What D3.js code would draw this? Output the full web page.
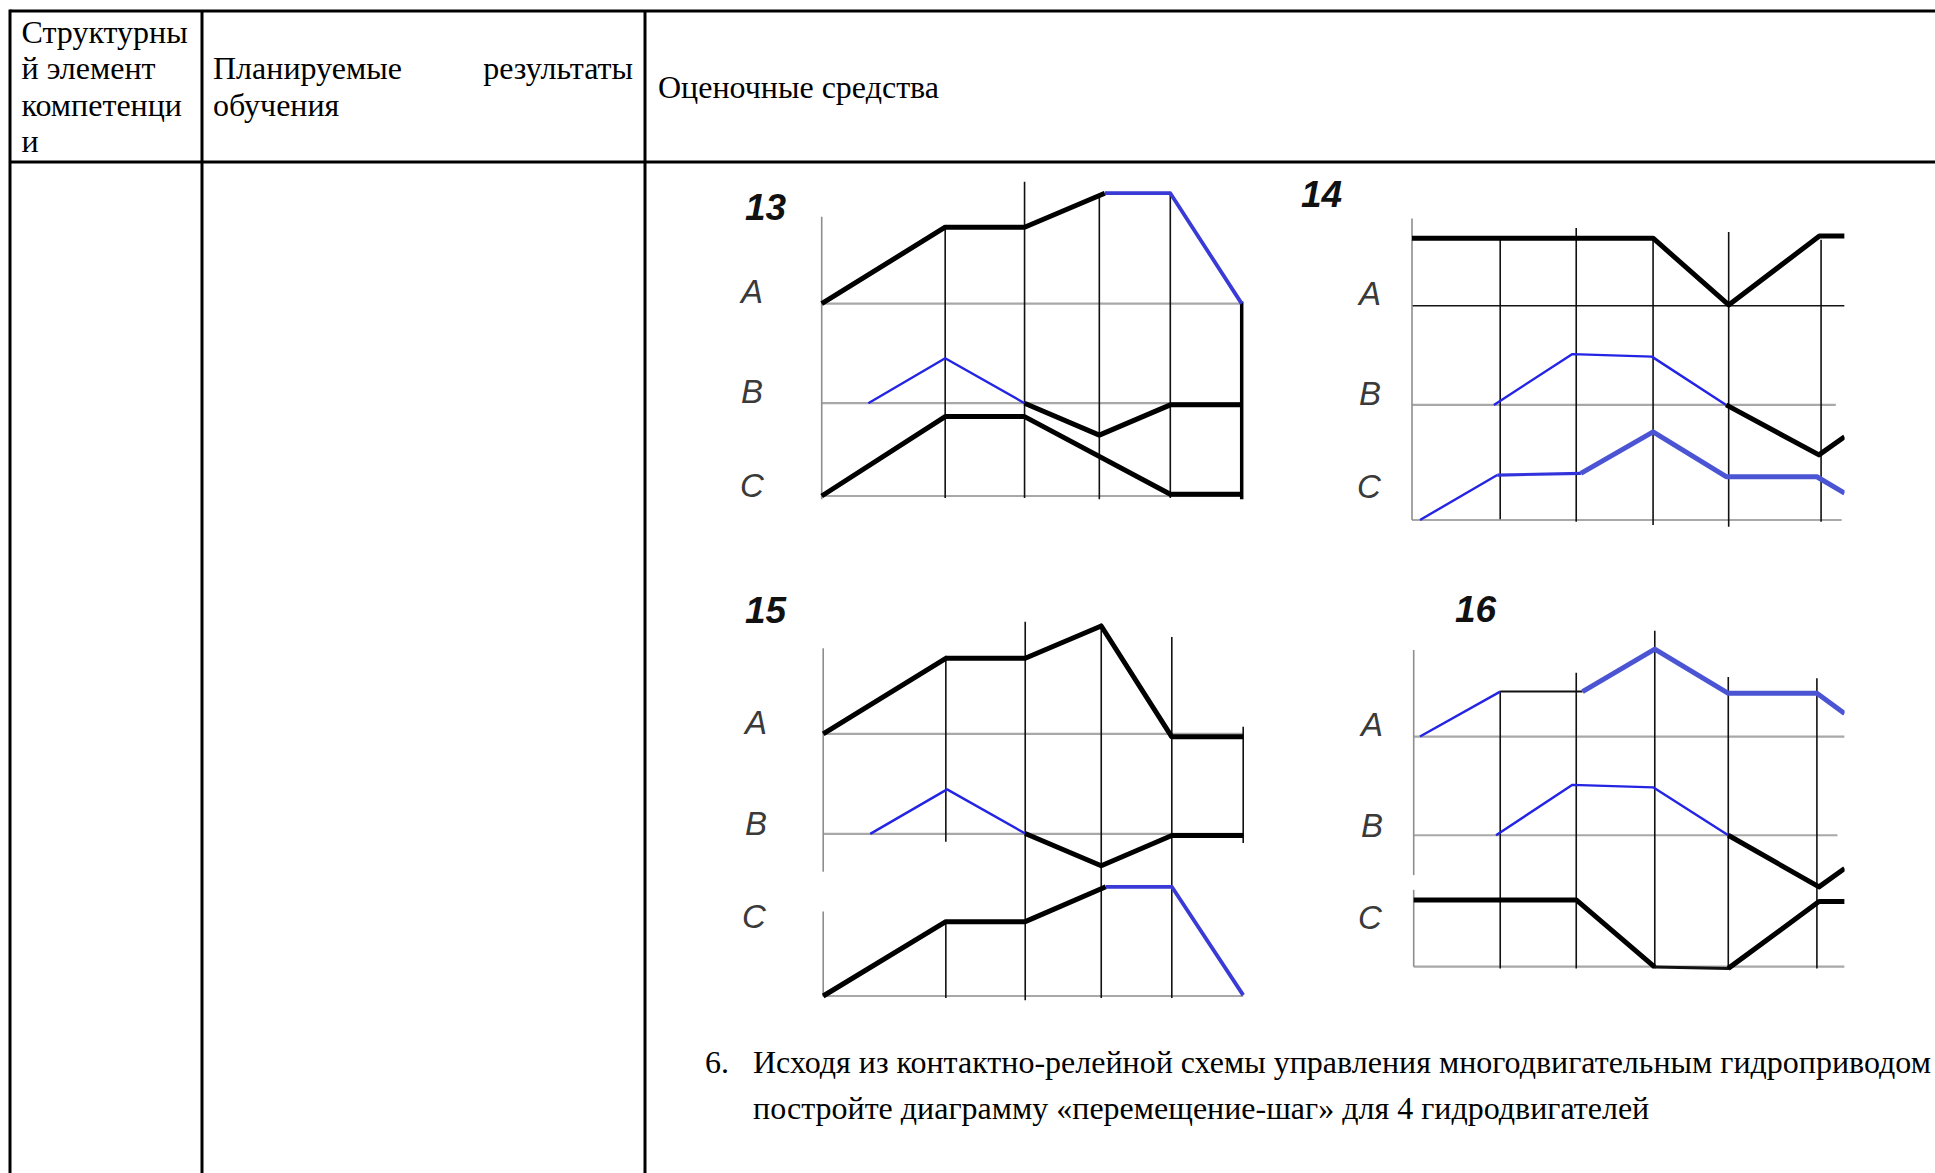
<!DOCTYPE html>
<html lang="ru">
<head>
  <meta charset="UTF-8">
  <title>Диаграммы «перемещение-шаг»</title>
  <script src="https://d3js.org/d3.v7.min.js"></script>
  <style>
    html, body { margin: 0; padding: 0; background: #fff; overflow: hidden; }
    svg { display: block; }
    .cell { font-family: "Liberation Serif", "Times New Roman", serif; font-size: 32px; fill: #000; }
    .num { font-family: "Liberation Sans", Arial, sans-serif; font-weight: bold; font-style: italic; font-size: 37px; fill: #111; }
    .lbl { font-family: "Liberation Sans Narrow", "Liberation Sans", sans-serif; font-style: italic; font-size: 33px; fill: #3a3a3a; }
  </style>
</head>
<body>
  <div id="sheet"></div>

  <script>
    const W = 1935, H = 1173;
    const UNIT = 4.2; // px per drawing unit

    // table text
    const headCol1 = ["Структурны", "й элемент", "компетенци", "и"];
    const headCol2 = ["Планируемые", "результаты", "обучения"];
    const headCol3 = "Оценочные средства";
    const taskNum = "6.";
    const taskLines = [
      "Исходя из контактно-релейной схемы управления многодвигательным гидроприводом",
      "постройте диаграмму «перемещение-шаг» для 4 гидродвигателей"
    ];

    const trackNames = ["A", "B", "C"];

    // ---- diagram 13 ----
    // base lines: [level, end, kind]
    const d13Base = [[45.8, 100, "base"], [22.1, 100, "base"], [0, 100, "base"]];
    // verticals: [step, from, to, kind]
    const d13Vert = [[0, -0.8, 66.5, "axis"], [29.4, -0.5, 64.0, "grid"], [48.3, -0.5, 74.8, "grid"],
                     [66.1, -0.8, 71.7, "grid"], [83.0, -0.5, 72.1, "grid"], [100, -0.8, 46.3, "edge"]];
    const d13Tracks = [
      { kind: "black", pts: [[0, 45.8], [29.4, 64.0], [48.3, 64.0], [67.4, 72.1]] },
      { kind: "blueBold", pts: [[67.4, 72.1], [83, 72.1], [100, 45.8]] },
      { kind: "blue", pts: [[11.1, 22.1], [29.4, 32.8], [48.3, 22.1]] },
      { kind: "black", pts: [[48.3, 22.1], [66.1, 14.5], [83, 21.7], [100, 21.7]] },
      { kind: "black", pts: [[0, 0], [29.4, 18.9], [48.3, 18.9], [83, 0.4], [100, 0.4]] }
    ];
    const d13Letters = [45.9, 22.1, -0.2];

    // ---- diagram 14 ----
    const d14Base = [[51.0, 103, "baseDark"], [27.4, 100.9, "base"], [0, 102.3, "base"]];
    const d14Vert = [[0, 0, 71.8, "axis"], [21.0, 0.2, 66.7, "grid"], [39.1, -0.4, 69.5, "grid"],
                     [57.4, -1.2, 67.5, "grid"], [75.4, -1.6, 68.6, "grid"], [97.4, -0.4, 66.7, "grid"]];
    const d14Tracks = [
      { kind: "black", pts: [[0, 67.1], [57.4, 67.1], [75.4, 51.2], [97.0, 67.6], [103, 67.6]] },
      { kind: "blue", pts: [[19.5, 27.4], [38.2, 39.5], [57.1, 38.9], [74.8, 27.4]] },
      { kind: "black", pts: [[74.8, 27.4], [96.9, 15.5], [103, 19.8]] },
      { kind: "blue", pts: [[1.9, 0], [20.3, 10.7]] },
      { kind: "blueMid", pts: [[20.3, 10.7], [40.2, 11.1]] },
      { kind: "blueWide", pts: [[40.2, 11.1], [57.4, 21.0], [74.8, 10.3], [96.4, 10.3], [103, 6.4]] }
    ];
    const d14Letters = [51.2, 27.4, 5.2];

    // ---- diagram 15 ----
    const d15Base = [[62.4, 100, "base"], [38.6, 100, "base"], [0, 100, "base"]];
    const d15Vert = [[0, 29.6, 82.8, "axis"], [0, -0.2, 20.1, "axis"], [29.2, 36.7, 81.0, "grid"],
                     [29.2, -0.5, 18.1, "grid"], [48.1, -1.0, 89.1, "grid"], [66.2, -0.5, 88.7, "grid"],
                     [83.0, -0.5, 85.5, "grid"], [100, 36.4, 64.1, "grid"]];
    const d15Tracks = [
      { kind: "black", pts: [[0, 62.4], [29.2, 80.4], [48.1, 80.4], [66.2, 88.1], [83, 61.7], [100, 61.7]] },
      { kind: "blue", pts: [[11.2, 38.6], [29.5, 49.2], [48.1, 38.7]] },
      { kind: "black", pts: [[48.1, 38.7], [66.2, 31.0], [83, 38.2], [100, 38.2]] },
      { kind: "black", pts: [[0, 0], [29.2, 17.7], [48.1, 17.7], [67.3, 26.0]] },
      { kind: "blueBold", pts: [[67.3, 26.0], [83, 26.0], [100, 0.2]] }
    ];
    const d15Letters = [62.4, 38.3, 16.1];

    // ---- diagram 16 ----
    const d16Base = [[54.8, 102.6, "base"], [31.3, 100.9, "base"], [0, 102.6, "base"]];
    const d16Vert = [[0, 21.8, 75.4, "axis"], [0, 0, 18.3, "axis"], [20.6, -0.4, 65.5, "grid"],
                     [38.7, -0.4, 70.0, "grid"], [57.4, -0.4, 80.0, "grid"], [74.9, -0.8, 69.0, "grid"],
                     [96.0, -0.4, 68.7, "grid"]];
    const d16Tracks = [
      { kind: "blue", pts: [[1.5, 54.8], [20.6, 65.5]] },
      { kind: "blackThin", pts: [[20.6, 65.5], [40.2, 65.5]] },
      { kind: "blueWide", pts: [[40.2, 65.5], [57.4, 75.6], [74.9, 65.1], [96.0, 65.1], [102.6, 60.3]] },
      { kind: "blue", pts: [[19.6, 31.3], [37.8, 43.3], [57.0, 42.7], [74.9, 31.3]] },
      { kind: "black", pts: [[74.9, 31.3], [96.5, 19.0], [102.6, 23.4]] },
      { kind: "black", pts: [[0, 15.9], [38.7, 15.9], [57.4, -0.1]] },
      { kind: "blackMid", pts: [[57.4, -0.1], [74.9, -0.4]] },
      { kind: "black", pts: [[74.9, -0.4], [96.5, 15.5], [102.6, 15.5]] }
    ];
    const d16Letters = [54.9, 31.0, 8.9];

    const diagrams = [
      { id: "13", base: d13Base, vert: d13Vert, tracks: d13Tracks, letters: d13Letters, clipAt: null },
      { id: "14", base: d14Base, vert: d14Vert, tracks: d14Tracks, letters: d14Letters, clipAt: 103.0 },
      { id: "15", base: d15Base, vert: d15Vert, tracks: d15Tracks, letters: d15Letters, clipAt: null },
      { id: "16", base: d16Base, vert: d16Vert, tracks: d16Tracks, letters: d16Letters, clipAt: 102.6 }
    ];

    // placement on the sheet
    const layout = {
      "13": { ox: 821.7, oy: 496.0, numX: 745, numY: 220, letX: [741, 741, 740] },
      "14": { ox: 1412.0, oy: 520.0, numX: 1301, numY: 207, letX: [1359, 1359, 1357] },
      "15": { ox: 823.2, oy: 996.0, numX: 745, numY: 623, letX: [745, 745, 742] },
      "16": { ox: 1413.7, oy: 966.7, numX: 1455, numY: 622, letX: [1361, 1361, 1358] }
    };

    const styles = {
      base:      { stroke: "#a8a8a8", width: 2.2 },
      baseDark:  { stroke: "#151515", width: 1.6 },
      axis:      { stroke: "#8e8e8e", width: 1.6 },
      grid:      { stroke: "#111", width: 1.6 },
      edge:      { stroke: "#000", width: 3.5 },
      black:     { stroke: "#000", width: 5 },
      blackMid:  { stroke: "#111", width: 3 },
      blackThin: { stroke: "#111", width: 2 },
      blue:      { stroke: "#2424e4", width: 2.4 },
      blueMid:   { stroke: "#3333dc", width: 3.2 },
      blueBold:  { stroke: "#3a3ad6", width: 3.8 },
      blueWide:  { stroke: "#4b55d4", width: 5 }
    };

    const svg = d3.select("#sheet").append("svg")
                  .attr("width", W)
                  .attr("height", H);

    // table rules
    const rules = [[10, 11, W, 11], [10, 162, W, 162], [10, 9.5, 10, H], [202, 11, 202, H], [645, 11, 645, H]];
    svg.append("g").selectAll("line")
       .data(rules)
       .join("line")
       .attr("x1", d => d[0]).attr("y1", d => d[1])
       .attr("x2", d => d[2]).attr("y2", d => d[3])
       .attr("stroke", "#000")
       .attr("stroke-width", 3);

    // header text
    svg.append("g").selectAll("text")
       .data(headCol1)
       .join("text")
       .attr("class", "cell")
       .attr("x", 21.5)
       .attr("y", (d, i) => 43 + i * 36.3)
       .text(d => d);
    svg.append("text").attr("class", "cell").attr("x", 213).attr("y", 79.3).text(headCol2[0]);
    svg.append("text").attr("class", "cell").attr("x", 633).attr("y", 79.3)
       .attr("text-anchor", "end").text(headCol2[1]);
    svg.append("text").attr("class", "cell").attr("x", 213).attr("y", 115.6).text(headCol2[2]);
    svg.append("text").attr("class", "cell").attr("x", 658).attr("y", 98).text(headCol3);

    // task text
    svg.append("text").attr("class", "cell").attr("x", 705).attr("y", 1073).text(taskNum);
    svg.append("g").selectAll("text")
       .data(taskLines)
       .join("text")
       .attr("class", "cell")
       .attr("x", 753)
       .attr("y", (d, i) => 1073 + i * 46)
       .text(d => d);

    // diagrams
    diagrams.forEach(d => {
      const L = layout[d.id];
      const x = d3.scaleLinear().domain([0, 100]).range([L.ox, L.ox + 100 * UNIT]);
      const y = d3.scaleLinear().domain([0, 100]).range([L.oy, L.oy - 100 * UNIT]);
      const g = svg.append("g");
      const lines = g.append("g");

      if (d.clipAt != null) {
        const id = "clip" + d.id;
        svg.append("clipPath").attr("id", id)
           .append("rect")
           .attr("x", L.ox - 200).attr("y", 0)
           .attr("width", x(d.clipAt) - (L.ox - 200)).attr("height", H);
        lines.attr("clip-path", `url(#${id})`);
      }

      lines.append("g").selectAll("line")
           .data(d.base)
           .join("line")
           .attr("x1", x(0)).attr("x2", b => x(b[1]))
           .attr("y1", b => y(b[0])).attr("y2", b => y(b[0]))
           .attr("stroke", b => styles[b[2]].stroke)
           .attr("stroke-width", b => styles[b[2]].width);

      lines.append("g").selectAll("line")
           .data(d.vert)
           .join("line")
           .attr("x1", v => x(v[0])).attr("x2", v => x(v[0]))
           .attr("y1", v => y(v[1])).attr("y2", v => y(v[2]))
           .attr("stroke", v => styles[v[3]].stroke)
           .attr("stroke-width", v => styles[v[3]].width);

      const line = d3.line()
                     .x(p => x(p[0]))
                     .y(p => y(p[1]));
      lines.append("g").selectAll("path")
           .data(d.tracks)
           .join("path")
           .attr("d", t => line(t.pts))
           .attr("fill", "none")
           .attr("stroke", t => styles[t.kind].stroke)
           .attr("stroke-width", t => styles[t.kind].width)
           .attr("stroke-linejoin", "round");

      g.append("text")
       .attr("class", "num")
       .attr("x", L.numX)
       .attr("y", L.numY)
       .text(d.id);

      g.append("g").selectAll("text")
       .data(d.letters)
       .join("text")
       .attr("class", "lbl")
       .attr("x", (v, i) => L.letX[i])
       .attr("y", v => y(v))
       .text((v, i) => trackNames[i]);
    });
  </script>
</body>
</html>
